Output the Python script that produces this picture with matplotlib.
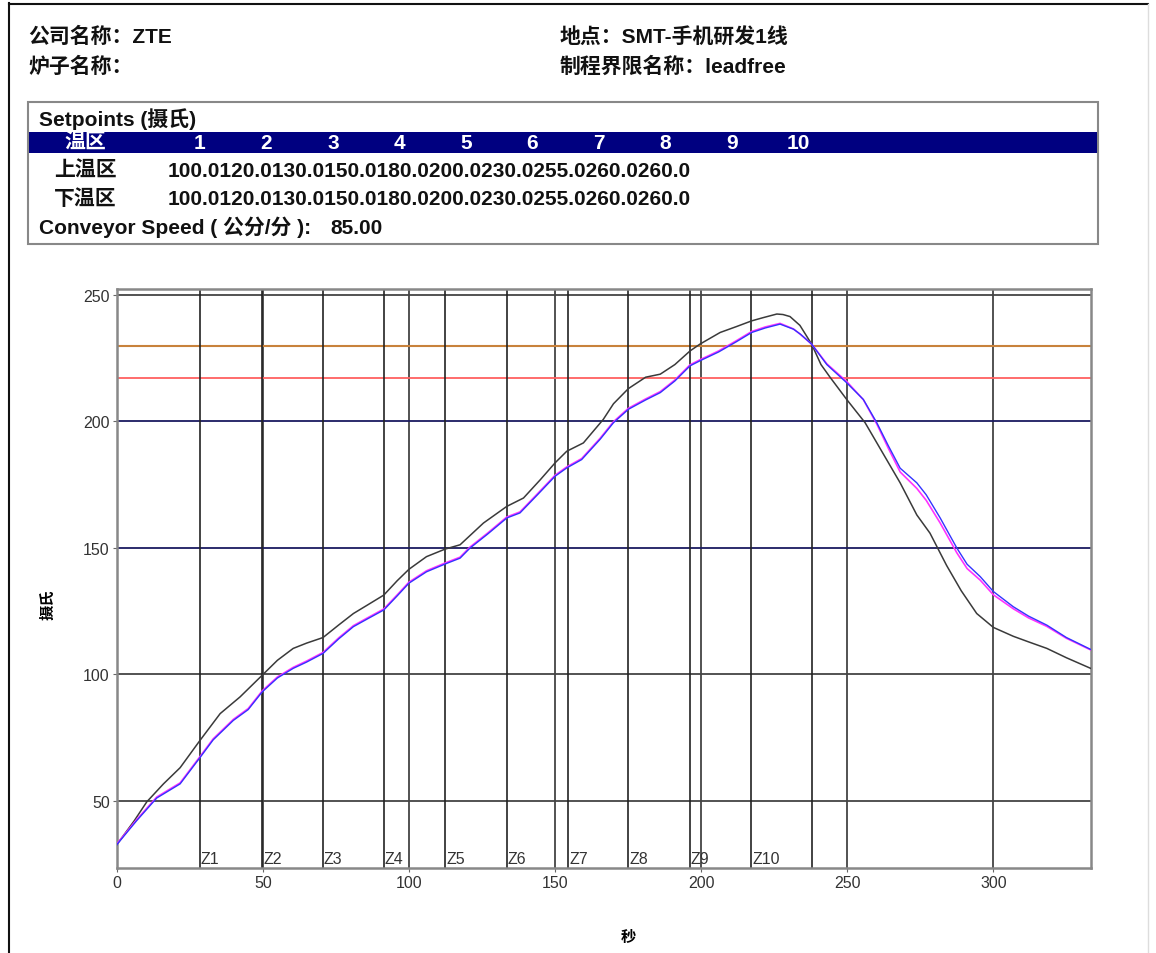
import matplotlib
matplotlib.use("Agg")
import matplotlib.pyplot as plt
from matplotlib.patches import Rectangle

plt.rcParams['font.family'] = ['Liberation Sans', 'Noto Sans CJK SC', 'DejaVu Sans']

# header / setpoint table
zones_hdr = ["1", "2", "3", "4", "5", "6", "7", "8", "9", "10"]
top_setpoints = [100.0, 120.0, 130.0, 150.0, 180.0, 200.0, 230.0, 255.0, 260.0, 260.0]
bottom_setpoints = [100.0, 120.0, 130.0, 150.0, 180.0, 200.0, 230.0, 255.0, 260.0, 260.0]
conveyor_speed = 85.00

# zone boundaries (seconds) and limit lines
zone_edges = [28.5, 49.8, 70.6, 91.4, 112.4, 133.6, 154.5, 175.1, 196.2, 217.1, 237.9]
zone_names = ["Z1", "Z2", "Z3", "Z4", "Z5", "Z6", "Z7", "Z8", "Z9", "Z10"]
soak_lines = [150, 200]
liquidus = 217
peak_min = 230

# probe curves
black_t = [0, 6, 10.3, 16, 21.7, 28.5, 35.4, 42.2, 49.8, 55, 60.4, 65, 70.6, 76, 81, 86,
           91.4, 96, 100, 106, 112.4, 117.5, 125.5, 133.5, 139.2, 145, 150, 154, 159.7,
           166.5, 170, 175.1, 181, 186, 191, 196.2, 199.6, 206.5, 212, 217.3, 221, 225.9,
           228, 230.4, 233.8, 237.8, 241, 244.1, 249.8, 256.1, 262.4, 268.1, 273.8, 278.3,
           284, 289, 294.3, 300, 306.8, 312, 318.3, 325, 333.3]
black_y = [32.5, 42, 49.5, 56.6, 63, 73.8, 84.4, 91, 99.6, 105.5, 110.2, 112.3, 114.5, 119.5,
           124, 127.5, 131.3, 137, 141.5, 146.5, 149.5, 151.2, 159.8, 166.4, 169.7, 177,
           183.6, 188.2, 191.5, 200.8, 207, 213, 217.5, 218.7, 222.5, 227.9, 230.6, 235.2,
           237.5, 239.8, 241, 242.5, 242.3, 241.5, 238, 230.6, 222.5, 217.5, 208.7, 199.5,
           187, 175.7, 163, 155.8, 143, 133, 124, 118.5, 115, 112.8, 110.2, 106.5, 102.3]

blue_t = [0, 6.8, 13.7, 21.7, 28.5, 33, 39.9, 45, 49.8, 55, 60.4, 65, 70.6, 76, 81, 86, 91.4,
          96, 100, 106, 112.4, 117.5, 120.9, 127, 133.5, 138, 144, 150, 154, 159.1, 165.4,
          170, 175.1, 181, 186, 191, 196.2, 199.6, 206, 212, 217.3, 222, 227, 231.6, 234,
          237.8, 243, 249.8, 255.5, 260.1, 264, 268.1, 273.8, 277, 281.8, 287.5, 291, 295.5,
          300, 306.8, 312, 318.3, 325, 333.3]
blue_y = [32.5, 42, 51, 56.6, 67, 74, 81.7, 86, 93, 98.5, 102.3, 104.8, 108.2, 114, 118.8,
          122, 125.4, 131, 136, 140.5, 143.6, 145.9, 149.9, 155.5, 161.8, 163.8, 171, 178.3,
          181.6, 184.9, 192.9, 199.5, 204.8, 208.5, 211.4, 216, 222, 224, 227.5, 231.5,
          235.2, 237, 238.5, 236.5, 234.5, 230.6, 222.5, 215.3, 208.7, 199.5, 190.5, 181.5,
          175.7, 171, 161.8, 149.9, 143.5, 138.6, 132.7, 126.7, 123, 119.4, 114.5, 109.8]

magenta_t = [0, 6.8, 13.7, 21.7, 28.5, 33, 39.9, 45, 49.8, 55, 60.4, 65, 70.6, 76, 81, 86, 91.4,
             96, 100, 106, 112.4, 117.5, 120.9, 127, 133.5, 138, 144, 150, 154, 159.1, 165.4,
             170, 175.1, 181, 186, 191, 196.2, 199.6, 206, 212, 217.3, 222, 227, 231.6, 234,
             237.8, 243, 249.8, 255.5, 260.1, 264, 268.1, 273.8, 277, 281.8, 287.5, 291, 295.5,
             300, 306.8, 312, 318.3, 325, 333.3]
magenta_y = [32.8, 42.4, 51.4, 57, 67.4, 74.4, 82.1, 86.4, 93.4, 98.9, 102.7, 105.2, 108.6, 114.4,
             119.2, 122.4, 125.8, 131.4, 136.4, 140.9, 144, 146.3, 150.3, 155.9, 162.2, 164.2,
             171.4, 178.7, 182, 185.3, 193.3, 199.9, 205.2, 208.9, 211.8, 216.4, 222.4, 224.4,
             227.9, 231.9, 235.6, 237.4, 238.8, 236.6, 234.4, 230.6, 222.8, 215.8, 208.6, 199,
             189.5, 180, 173.5, 168.8, 159.8, 148, 141.8, 137.2, 131.4, 125.9, 122.3, 118.9,
             114.2, 109.6]

fig = plt.figure(figsize=(11.56, 9.54), dpi=100)
W, H = 1156.0, 954.0


def fx(px):
    return px / W


def fy(py):
    return 1 - py / H


# page border
fig.add_artist(plt.Line2D([fx(9), fx(9)], [fy(4), fy(954)], color='#111', lw=1.5))
fig.add_artist(plt.Line2D([fx(9), fx(1148)], [fy(5), fy(5)], color='#111', lw=1.5))
fig.add_artist(plt.Line2D([fx(1148), fx(1148)], [fy(5), fy(954)], color='#ddd', lw=1))

# header text
hdr_kw = dict(fontsize=15, fontweight='bold', va='center', ha='left', color='#111')
fig.text(fx(28), fy(37), "公司名称：ZTE", **hdr_kw)
fig.text(fx(28), fy(67), "炉子名称：", **hdr_kw)
fig.text(fx(560), fy(37), "地点：SMT-手机研发1线", **hdr_kw)
fig.text(fx(560), fy(67), "制程界限名称：leadfree", **hdr_kw)

# setpoint table box
fig.add_artist(Rectangle((fx(28), fy(245)), fx(1098 - 28), (245 - 103) / H,
                         facecolor='none', edgecolor='#888', lw=1.5))
fig.add_artist(Rectangle((fx(29), fy(154)), fx(1097 - 29), (154 - 133) / H,
                         facecolor='#000080', edgecolor='none'))
tbl_kw = dict(fontsize=15, fontweight='bold', va='baseline', color='#111')
fig.text(fx(39), fy(126), "Setpoints (摄氏)", ha='left', **tbl_kw)
fig.text(fx(85), fy(149), "温区", ha='center', fontsize=15, fontweight='bold',
         va='baseline', color='white')
for i, z in enumerate(zones_hdr):
    fig.text(fx(200 + 66.5 * i), fy(149), z, ha='center', fontsize=15,
             fontweight='bold', va='baseline', color='white')
fig.text(fx(85), fy(177), "上温区", ha='center', **tbl_kw)
fig.text(fx(85), fy(205), "下温区", ha='center', **tbl_kw)
fig.text(fx(168), fy(177), "".join(f"{v:.1f}" for v in top_setpoints), ha='left', **tbl_kw)
fig.text(fx(168), fy(205), "".join(f"{v:.1f}" for v in bottom_setpoints), ha='left', **tbl_kw)
fig.text(fx(39), fy(234), "Conveyor Speed ( 公分/分 ):", ha='left', **tbl_kw)
fig.text(fx(330), fy(234), f"{conveyor_speed:.2f}", ha='left', **tbl_kw)

# chart
ax = fig.add_axes([fx(116.7), fy(869.3), fx(1090.7 - 116.7), (869.3 - 290) / H])
ax.set_xlim(0, 333.3)
ax.set_ylim(23.2, 252.4)

for x in [50, 100, 150, 200, 250, 300]:
    ax.axvline(x, color='#444', lw=1.3, zorder=1)
for y in [50, 100, 250]:
    ax.axhline(y, color='#444', lw=1.3, zorder=1)
for y in soak_lines:
    ax.axhline(y, color='#1a1a60', lw=1.3, zorder=1)
ax.axhline(peak_min, color='#c8823c', lw=1.5, zorder=1)
ax.axhline(liquidus, color='#ff6060', lw=1.3, zorder=1)

for i, x in enumerate(zone_edges):
    ax.axvline(x, color='#222', lw=1.2, zorder=1)
    if i < len(zone_names):
        ax.text(x + 0.3, 24.0, zone_names[i], fontsize=11.5, color='#333',
                ha='left', va='bottom')

ax.plot(black_t, black_y, color='#3a3a3a', lw=1.1, zorder=3)
ax.plot(magenta_t, magenta_y, color='#ff33ff', lw=1.2, zorder=3)
ax.plot(blue_t, blue_y, color='#3333ff', lw=1.0, zorder=4)

ax.set_xticks([0, 50, 100, 150, 200, 250, 300])
ax.set_yticks([50, 100, 150, 200, 250])
ax.tick_params(labelsize=11.5, labelcolor='#333', color='#666', length=3, pad=2)
for s in ax.spines.values():
    s.set_color('#888')
    s.set_linewidth(1.8)

fig.text(fx(628), fy(938), "秒", fontsize=11, fontweight='bold', ha='center', va='center')
fig.text(fx(48), fy(605), "摄氏", fontsize=11, fontweight='bold', ha='center', va='center',
         rotation=90)

fig.savefig("out.png", dpi=100)
